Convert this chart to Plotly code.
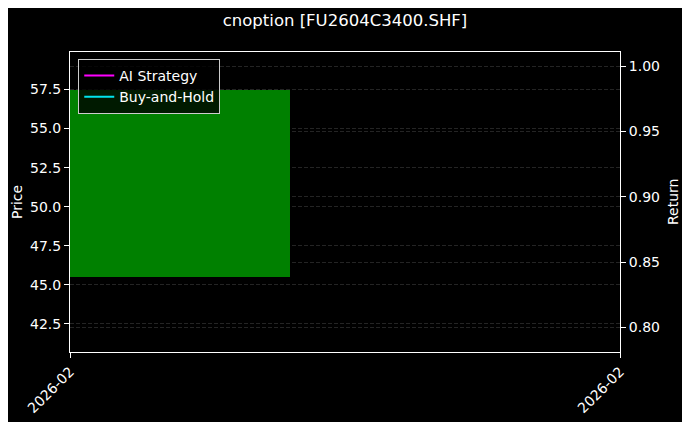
import plotly.graph_objects as go
import pandas as pd

# データ
dates = ["2026-02-13"]
open_ = [45.5]
high = [59.0]
low = [41.6]
close = [57.5]

ai_strategy = [1.0]
buy_and_hold = [1.0]

return_range = [0.781, 1.011]
price_range = [40.7, 59.9]

d0 = pd.Timestamp(dates[0])
day_ms = 24 * 3600 * 1000
x_range = [d0, d0 + pd.Timedelta(days=1)]

fig = go.Figure()

# ローソク足の実体（bar で描画）、ヒゲは軸線と重なるので hover のみ
fig.add_trace(go.Bar(
    x=dates, y=[c - o for o, c in zip(open_, close)], base=open_,
    width=0.8 * day_ms, marker=dict(color="#008000", line=dict(width=0)),
    customdata=list(zip(open_, high, low, close)),
    hovertemplate="O %{customdata[0]}<br>H %{customdata[1]}<br>"
                  "L %{customdata[2]}<br>C %{customdata[3]}<extra></extra>",
    showlegend=False, yaxis="y",
))

fig.add_trace(go.Scatter(
    x=dates, y=ai_strategy, mode="lines", name="AI Strategy",
    line=dict(color="#ff00ff", width=2), yaxis="y2",
))
fig.add_trace(go.Scatter(
    x=dates, y=buy_and_hold, mode="lines", name="Buy-and-Hold",
    line=dict(color="#00e5ee", width=2), yaxis="y2",
))

grid = "rgba(128,128,128,0.28)"
font = "DejaVu Sans"

# ページ本体の余白(8px)ぶんマージンをずらす
fig.update_layout(
    width=690, height=422,
    paper_bgcolor="#000000", plot_bgcolor="#000000",
    font=dict(family=font, color="white", size=14),
    margin=dict(l=62, r=78, t=44, b=78),
    title=dict(text="cnoption [FU2604C3400.SHF]", x=0.5, xref="paper",
               xanchor="center", y=1 - 12 / 422, yanchor="middle",
               font=dict(size=16.5, color="white")),
    bargap=0,
    xaxis=dict(
        type="date", range=x_range, tickvals=x_range, tickformat="%Y-%m",
        tickangle=-45, showgrid=False, showline=True, linecolor="white",
        linewidth=1, mirror=True, ticks="outside", ticklen=5, tickcolor="white",
        zeroline=False, automargin=False,
    ),
    yaxis=dict(
        range=price_range,
        dtick=2.5, tickformat=".1f", showline=True, linecolor="white",
        ticks="outside", ticklen=5, tickcolor="white", zeroline=False,
        showgrid=True, gridcolor=grid, griddash="4px,2px", gridwidth=0.6,
        automargin=False,
    ),
    yaxis2=dict(
        range=return_range,
        overlaying="y", side="right", dtick=0.05, tickformat=".2f",
        showline=True, linecolor="white", ticks="outside", ticklen=5,
        tickcolor="white", zeroline=False,
        showgrid=True, gridcolor=grid, griddash="4px,2px", gridwidth=0.6,
        automargin=False,
    ),
    legend=dict(
        x=0.015, y=0.977, xanchor="left", yanchor="top",
        bgcolor="rgba(0,0,0,0.8)", bordercolor="#cccccc", borderwidth=1,
        font=dict(size=14, color="white"), tracegroupgap=0,
    ),
    annotations=[
        dict(text="Price", xref="paper", yref="paper", x=-53 / 550, y=0.5,
             textangle=-90, showarrow=False, xanchor="center", yanchor="middle",
             font=dict(size=14, color="white")),
        dict(text="Return", xref="paper", yref="paper", x=1 + 53 / 550, y=0.5,
             textangle=-90, showarrow=False, xanchor="center", yanchor="middle",
             font=dict(size=14, color="white")),
    ],
)

fig.write_html("out.html")
